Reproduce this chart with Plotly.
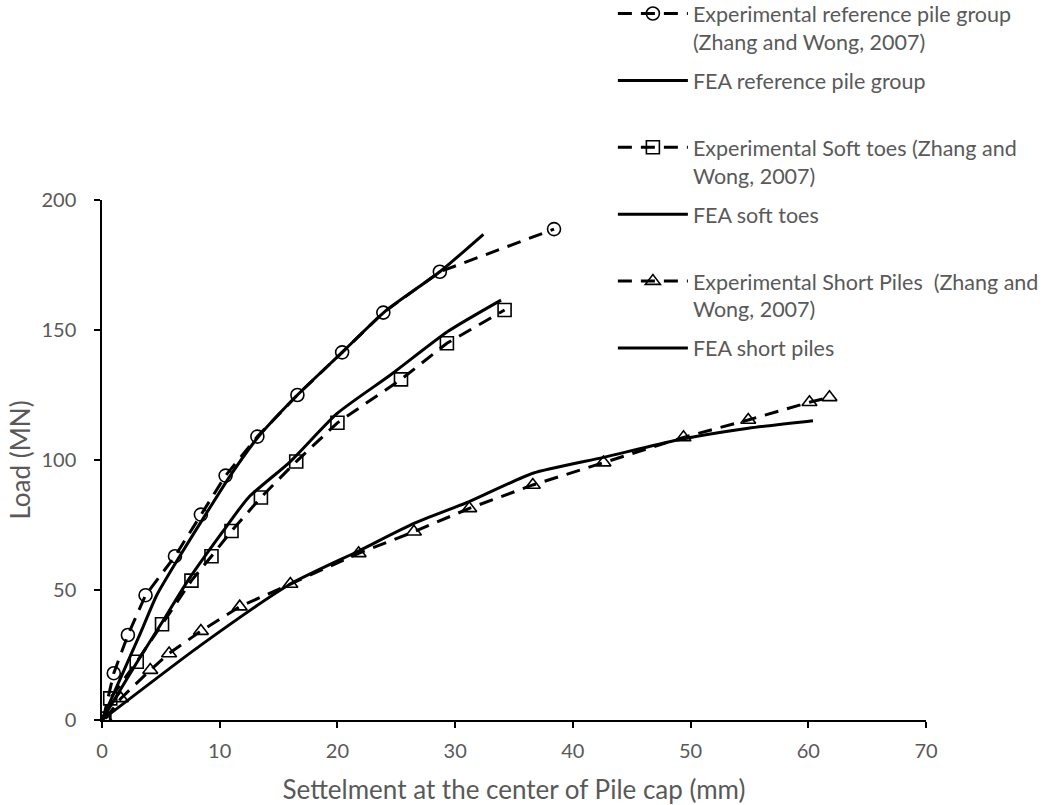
import plotly.graph_objects as go

# ---- data ----
ref_exp_x = [0.1, 1.0, 2.2, 3.7, 6.2, 8.4, 10.5, 13.2, 16.6, 20.4, 23.9, 28.7, 38.4]
ref_exp_y = [0.5, 18, 32.7, 48, 63, 79, 94, 109, 125, 141.4, 156.7, 172.4, 188.8]

ref_fea_x = [0, 3.2, 4.65, 6.6, 8.8, 10.9, 13.3, 16.6, 20.4, 24.0, 28.7, 32.4]
ref_fea_y = [0, 32.7, 48, 63, 79, 94, 109, 125, 141.4, 157, 172.4, 186.8]

soft_exp_x = [0.2, 0.7, 2.95, 5.1, 7.6, 9.3, 11.0, 13.5, 16.5, 20.0, 25.4, 29.3, 34.2]
soft_exp_y = [0.5, 8.3, 22.4, 36.8, 53.6, 63, 72.7, 85.6, 99.4, 114.3, 131, 144.9, 157.7]

soft_fea_x = [0, 3.0, 5.0, 7.3, 10.3, 12.45, 16.0, 20.0, 24.5, 29.4, 33.9]
soft_fea_y = [0, 22.4, 36.8, 53.6, 72.7, 85.6, 99.4, 118, 132.7, 149.5, 161.5]

short_exp_x = [0.3, 1.6, 4.1, 5.7, 8.4, 11.7, 16.0, 21.8, 26.5, 31.2, 36.6, 42.6, 49.4, 54.9, 60.1, 61.8]
short_exp_y = [0.5, 8.3, 19.2, 25.6, 34.2, 43.6, 52.3, 64.1, 72.4, 81.4, 90.4, 99, 108.7, 115.4, 122.2, 124.1]

short_fea_x = [0, 8.4, 16.0, 21.8, 26.5, 31.2, 36.6, 42.6, 48.9, 54.9, 60.4]
short_fea_y = [0, 28.8, 52.3, 65, 75.6, 84, 94.9, 101, 107.7, 112.2, 115.1]

names = [
    "Experimental reference pile group<br>(Zhang and Wong, 2007)",
    "FEA reference pile group<br> ",
    "Experimental Soft toes (Zhang and<br>Wong, 2007)",
    "FEA soft toes<br> ",
    "Experimental Short Piles  (Zhang and<br>Wong, 2007)",
    "FEA short piles<br> ",
]

FONT = "Lato"
GREY = "#595959"
DASH = "14px,9px"

fig = go.Figure()

def exp_trace(x, y, name, symbol, group):
    return go.Scatter(
        x=x, y=y, name=name, mode="lines+markers", legendgroup=group,
        line=dict(color="black", width=3, dash=DASH),
        marker=dict(symbol=symbol, size=13, color="black", line=dict(width=1.6, color="black")),
    )

def fea_trace(x, y, name, group):
    return go.Scatter(
        x=x, y=y, name=name, mode="lines", legendgroup=group,
        line=dict(color="black", width=3, shape="spline", smoothing=0.6),
    )

fig.add_trace(exp_trace(ref_exp_x, ref_exp_y, names[0], "circle-open", "g1"))
fig.add_trace(fea_trace(ref_fea_x, ref_fea_y, names[1], "g2"))
fig.add_trace(exp_trace(soft_exp_x, soft_exp_y, names[2], "square-open", "g3"))
fig.add_trace(fea_trace(soft_fea_x, soft_fea_y, names[3], "g4"))
fig.add_trace(exp_trace(short_exp_x, short_exp_y, names[4], "triangle-up-open", "g5"))
fig.add_trace(fea_trace(short_fea_x, short_fea_y, names[5], "g6"))

axis_common = dict(
    showline=True, linecolor="black", linewidth=1.5,
    ticks="outside", ticklen=6, tickwidth=1.5, tickcolor="black",
    showgrid=False, zeroline=False, automargin=False,
    tickfont=dict(family=FONT, size=20, color=GREY),
    title_font=dict(family=FONT, size=26, color=GREY),
)

fig.update_layout(
    width=1055, height=805,
    margin=dict(l=102, r=129, t=200, b=85, autoexpand=False),
    paper_bgcolor="white", plot_bgcolor="white",
    font=dict(family=FONT, size=20, color=GREY),
    xaxis=dict(range=[0, 70], dtick=10, title=dict(text="Settelment at the center of Pile cap (mm)", standoff=22),
               ticklabelstandoff=6, **axis_common),
    yaxis=dict(range=[0, 200], dtick=50, title=dict(text="Load (MN)", standoff=3),
               ticklabelstandoff=14, **axis_common),
    legend=dict(
        x=0.62, y=1.398, xanchor="left", yanchor="top",
        traceorder="grouped", tracegroupgap=8, valign="top",
        itemwidth=70, maxheight=760, font=dict(family=FONT, size=21.5, color=GREY),
        bgcolor="rgba(0,0,0,0)",
    ),
    showlegend=True,
)

fig.write_html("out.html")
